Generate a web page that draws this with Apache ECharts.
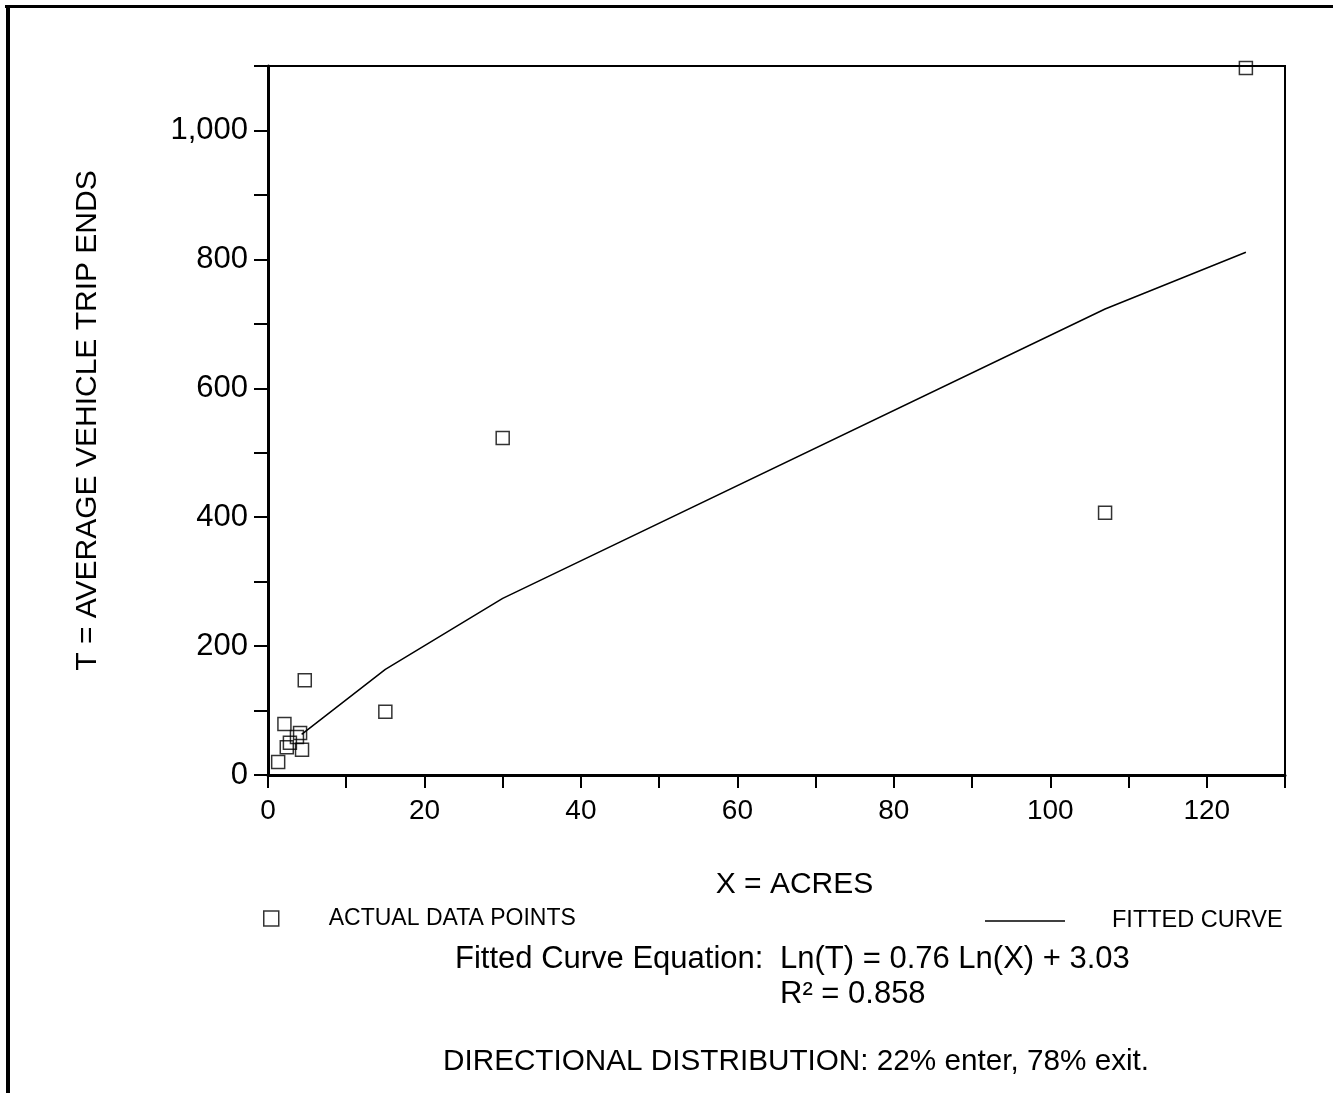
<!DOCTYPE html>
<html><head><meta charset="utf-8">
<script src="https://cdn.jsdelivr.net/npm/echarts@6/dist/echarts.min.js"></script>
<style>html,body{margin:0;padding:0;background:#fff}#c{width:1333px;height:1093px}</style>
</head><body><div id="c"></div>
<script>
// Actual data points: [acres, trip ends]
const actualX = [125, 30, 107, 15, 4.7, 2.1, 4.1, 3.7, 2.8, 2.4, 4.35, 1.3];
const actualT = [1097, 523, 407, 98, 147, 79, 65, 59, 50, 43, 39, 20];
// Fitted curve (polyline)
const curveX = [4.3, 15, 30, 107, 125];
const curveT = [63, 164, 274, 723, 811];
// Tick labels
const xTickLabels = [0, 20, 40, 60, 80, 100, 120];
const yTickLabels = ['0', '200', '400', '600', '800', '1,000'];

const FONT = '"Liberation Sans", Arial, Helvetica, sans-serif';
const chart = echarts.init(document.getElementById('c'), null, {renderer: 'canvas'});
const scatterData = actualX.map((x, i) => [x, actualT[i]]);
const curveData = curveX.map((x, i) => [x, curveT[i]]);

chart.setOption({
  backgroundColor: '#fff',
  animation: false,
  grid: {left: 268, top: 66, right: 48, bottom: 318, show: true, borderColor: '#000', borderWidth: 2, backgroundColor: 'transparent'},
  xAxis: {
    type: 'value', min: 0, max: 130, interval: 10,
    name: 'X = ACRES', nameLocation: 'middle', nameGap: 95,
    nameTextStyle: {fontFamily: FONT, fontSize: 30, color: '#000', padding: [0, 0, 0, 36]},
    axisLine: {show: true, lineStyle: {color: '#000', width: 3}},
    axisTick: {show: true, length: 13, lineStyle: {color: '#000', width: 2}},
    axisLabel: {fontFamily: FONT, fontSize: 28, color: '#000', margin: 22,
      formatter: v => xTickLabels.indexOf(v) >= 0 ? String(v) : ''},
    splitLine: {show: false}
  },
  yAxis: {
    type: 'value', min: 0, max: 1100, interval: 100,
    name: 'T = AVERAGE VEHICLE TRIP ENDS', nameLocation: 'middle', nameGap: 165,
    nameTextStyle: {fontFamily: FONT, fontSize: 30, color: '#000'},
    axisLine: {show: true, lineStyle: {color: '#000', width: 3}},
    axisTick: {show: true, length: 14, lineStyle: {color: '#000', width: 2}},
    axisLabel: {fontFamily: FONT, fontSize: 31, color: '#000', margin: 20,
      formatter: v => {
        const s = v.toLocaleString('en-US');
        return yTickLabels.indexOf(s) >= 0 ? s : '';
      }},
    splitLine: {show: false}
  },
  legend: [
    {data: [{name: 'ACTUAL DATA POINTS', icon: 'rect', itemStyle: {color: 'transparent', borderColor: '#000', borderWidth: 1.5}}],
     left: 258, top: 902, itemWidth: 15, itemHeight: 15, itemGap: 0,
     textStyle: {fontFamily: FONT, fontSize: 23, color: '#000', padding: [0, 0, 0, 45]}},
    {data: [{name: 'FITTED CURVE', icon: 'rect', itemStyle: {color: '#000'}}],
     left: 980, top: 904, itemWidth: 80, itemHeight: 1.5,
     textStyle: {fontFamily: FONT, fontSize: 23.5, color: '#000', padding: [0, 0, 0, 42]}}
  ],
  series: [
    {name: 'ACTUAL DATA POINTS', type: 'scatter', data: scatterData, symbol: 'rect', symbolSize: 13,
     itemStyle: {color: 'transparent', borderColor: '#000', borderWidth: 1.5}, z: 3},
    {name: 'FITTED CURVE', type: 'line', data: curveData, symbol: 'none', smooth: false,
     lineStyle: {color: '#000', width: 1.5}, itemStyle: {color: '#000'}, z: 2}
  ],
  graphic: [
    {type: 'rect', shape: {x: 5, y: 5, width: 1328, height: 3}, style: {fill: '#000'}},
    {type: 'rect', shape: {x: 6, y: 5, width: 4, height: 1088}, style: {fill: '#000'}},
    {type: 'text', style: {x: 455, y: 959, text: 'Fitted Curve Equation:', font: '31px ' + FONT, fill: '#000', verticalAlign: 'middle'}},
    {type: 'text', style: {x: 780, y: 959, text: 'Ln(T) = 0.76 Ln(X) + 3.03', font: '31px ' + FONT, fill: '#000', verticalAlign: 'middle'}},
    {type: 'text', style: {x: 780, y: 994, text: 'R² = 0.858', font: '31px ' + FONT, fill: '#000', verticalAlign: 'middle'}},
    {type: 'text', style: {x: 443, y: 1062, text: 'DIRECTIONAL DISTRIBUTION: 22% enter, 78% exit.', font: '29.7px ' + FONT, fill: '#000', verticalAlign: 'middle'}}
  ]
});
</script></body></html>
